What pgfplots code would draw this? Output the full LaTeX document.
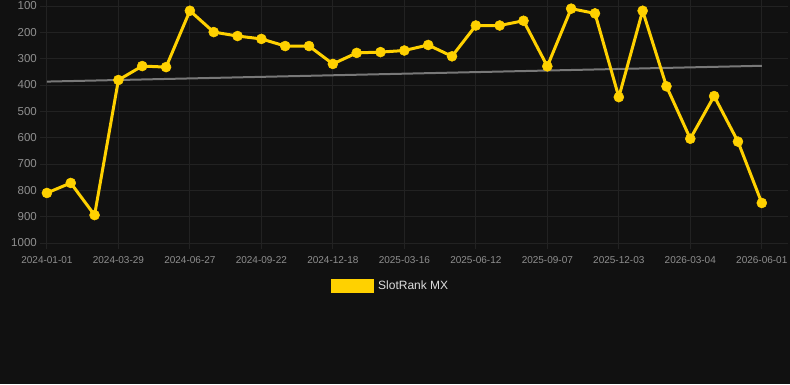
\documentclass[border=0pt]{standalone}
\usepackage{pgfplots}
\pgfplotsset{compat=1.18}
\usepackage{fontspec}
\setmainfont{Liberation Sans}
\definecolor{bg}{HTML}{111111}
\definecolor{gridc}{HTML}{222222}
\definecolor{tickc}{HTML}{8F8F8F}
\definecolor{gold}{HTML}{FFD100}
\definecolor{trend}{HTML}{787878}
\definecolor{legtext}{HTML}{DDDDDD}
\begin{document}
\begin{tikzpicture}
\useasboundingbox (0,0) rectangle (790pt,384pt);
\fill[bg] (0,0) rectangle (790pt,384pt);
\begin{axis}[
  at={(40pt,141pt)}, anchor=south west,
  width=748pt, height=237pt, scale only axis,
  xmin=-0.29, xmax=31.1, ymin=100, ymax=1000, y dir=reverse,
  xtick={0,3,...,30},
  xticklabels={2024-01-01,2024-03-29,2024-06-27,2024-09-22,2024-12-18,2025-03-16,2025-06-12,2025-09-07,2025-12-03,2026-03-04,2026-06-01},
  ytick={100,200,...,1000},
  grid=major, grid style={gridc, line width=1pt},
  axis line style={draw=none},
  major tick length=6pt, tick align=outside,
  tick style={gridc, line width=1pt},
  ytick style={draw=none},
  /pgf/number format/assume math mode=true,
  /pgf/number format/1000 sep={},
  tick label style={tickc},
  yticklabel style={font=\fontsize{11.5}{13}\selectfont, inner sep=0pt, xshift=3pt},
  xticklabel style={font=\fontsize{10}{12}\selectfont, inner sep=0pt, yshift=-7.5pt},
  clip=false,
  legend style={at={(0.389,-0.181)}, anchor=west, draw=none, fill=none, inner sep=0pt,
    text=legtext, font=\fontsize{12}{14}\selectfont},
  legend image code/.code={\fill[gold] (0pt,-5.5pt) rectangle (40pt,5.5pt); \path (42pt,0pt);},
]
\addplot[trend, line width=2pt, forget plot] coordinates {(0,387) (30,327)};
\addplot[gold, line width=3pt, mark=*, mark size=5pt, mark options={solid, fill=gold, draw=gold, line width=0.5pt}] coordinates {
(0,810) (1,772) (2,894) (3,381) (4,328) (5,332) (6,118) (7,199) (8,214) (9,225)
(10,252) (11,252) (12,320) (13,278) (14,275) (15,269) (16,248) (17,291) (18,174) (19,174)
(20,156) (21,329) (22,110) (23,128) (24,446) (25,118) (26,405) (27,604) (28,442) (29,615)
(30,848)};
\addlegendentry{SlotRank MX}
\end{axis}
\end{tikzpicture}
\end{document}
